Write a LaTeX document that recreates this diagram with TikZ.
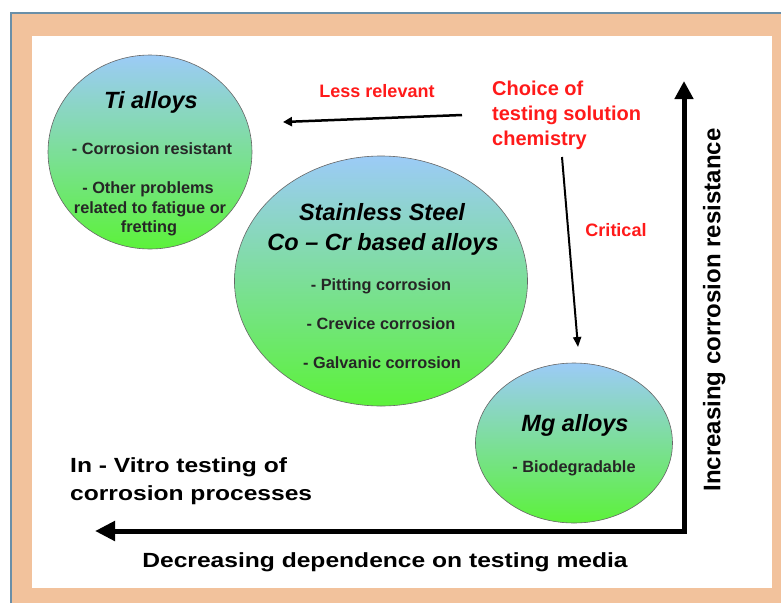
\documentclass[tikz,border=0pt]{standalone}
\usepackage{fontspec}
\setmainfont{Liberation Sans}
\usetikzlibrary{shapes.geometric,arrows.meta}
\definecolor{bgorange}{HTML}{F2C29C}
\definecolor{bordblue}{HTML}{6A8FA8}
\definecolor{topblue}{HTML}{9CCBF7}
\definecolor{botgreen}{HTML}{5CF23A}
\definecolor{redtxt}{HTML}{FF1A1A}
\begin{document}
\begin{tikzpicture}[x=1pt,y=-1pt,
  txt/.style={inner sep=0pt},
  axislbl/.style={txt, text height=15.4pt, text depth=1pt, font=\fontsize{20.5}{24}\selectfont\bfseries},
  redlbl/.style={txt, text height=13.5pt, text depth=0.9pt, text=redtxt, font=\fontsize{18}{22}\selectfont\bfseries},
  redbig/.style={txt, text height=15pt, text depth=1pt, text=redtxt, font=\fontsize{20}{24}\selectfont\bfseries},
  ctitle/.style={txt, text height=17.6pt, text depth=1.2pt, font=\fontsize{23.5}{28}\selectfont\bfseries\itshape},
  cbody/.style={txt, text height=12.2pt, text depth=0.8pt, font=\fontsize{16.3}{20}\selectfont\bfseries, text=black!85},
  vlbl/.style={txt, text height=18pt, text depth=1.2pt, font=\fontsize{24}{28}\selectfont\bfseries},
  bubble/.style={ellipse, draw=gray!80!black, line width=0.6pt, top color=topblue, bottom color=botgreen, inner sep=0pt},
]
\useasboundingbox (0,0) rectangle (781,603);
\fill[white] (0,0) rectangle (781,603);
\fill[bgorange] (11,13) rectangle (781,603);
\draw[bordblue, line width=1.5pt] (11,603) -- (11,13) -- (781,13);
\fill[white] (32,36) rectangle (772,588);

% bubbles
\node[bubble, minimum width=204pt, minimum height=194pt] (ti) at (150,152) {};
\node[bubble, minimum width=293pt, minimum height=250pt] (ss) at (381,281) {};
\node[bubble, minimum width=197pt, minimum height=160pt] (mg) at (574,443) {};

% Ti texts
\node[ctitle] (tiT) at (151,100) {Ti alloys};
\node[cbody] (ti1) at (152,149) {- Corrosion resistant};
\node[cbody] (ti2) at (148,188) {- Other problems};
\node[cbody] (ti3) at (150,208) {related to fatigue or};
\node[cbody] (ti4) at (149,227) {fretting};

% Stainless texts
\node[ctitle] (ssT1) at (382,212) {Stainless Steel};
\node[ctitle] (ssT2) at (383,242) {Co -- Cr based alloys};
\node[cbody] (ss1) at (381,285) {- Pitting corrosion};
\node[cbody] (ss2) at (381,324) {- Crevice corrosion};
\node[cbody] (ss3) at (382,363) {- Galvanic corrosion};

% Mg texts
\node[ctitle] (mgT) at (575,423) {Mg alloys};
\node[cbody] (mg1) at (574,467) {- Biodegradable};

% red labels
\node[redlbl] (less) at (377,91) {Less relevant};
\node[redbig, anchor=west] (ch1) at (492,88) {Choice of};
\node[redbig, anchor=west] (ch2) at (492,113) {testing solution};
\node[redbig, anchor=west] (ch3) at (492,138) {chemistry};
\node[redlbl] (crit) at (616,230) {Critical};

% arrows
\coordinate (lrS) at (462,115);
\coordinate (lrE) at (283,122);
\draw[line width=2.5pt, -{Triangle[length=9pt,width=9pt]}] (lrS) -- (lrE);
\coordinate (crS) at (562,157);
\coordinate (crE) at (578,347);
\draw[line width=2pt, -{Triangle[length=10pt,width=8pt]}] (crS) -- (crE);

% axes
\coordinate (yTop) at (684,81);
\coordinate (corner) at (684,531);
\coordinate (xEnd) at (95,531);
\draw[line width=5pt, line join=miter, {Triangle[length=20pt,width=19pt]}-{Triangle[length=18pt,width=18pt]}] (xEnd) -- (corner) -- (yTop);

% axis labels
\node[axislbl, anchor=west] (iv1) at (70,465) {\scalebox{1.2}[1]{In - Vitro testing of}};
\node[axislbl, anchor=west] (iv2) at (70,493) {\scalebox{1.2}[1]{corrosion processes}};
\node[axislbl] (xlbl) at (385,560) {\scalebox{1.2}[1]{Decreasing dependence on testing media}};
\node[vlbl, rotate=90] (ylbl) at (712,310) {Increasing corrosion resistance};
\end{tikzpicture}
\end{document}
